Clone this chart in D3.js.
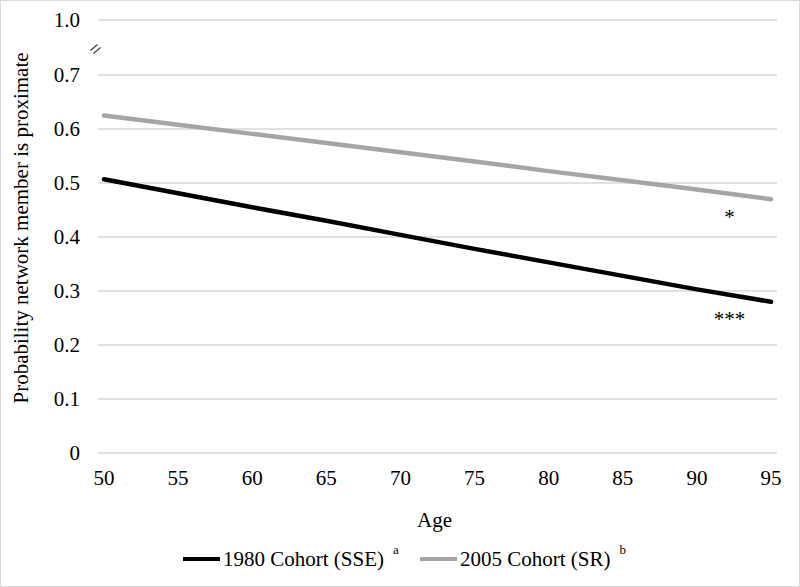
<!DOCTYPE html>
<html>
<head>
<meta charset="utf-8">
<script src="https://cdn.jsdelivr.net/npm/d3@7"></script>
<style>
  body { margin: 0; background: #fff; }
  svg { font-family: "Liberation Serif", "Times New Roman", serif; }
</style>
</head>
<body>
<div id="chart"></div>
<script>
// data
const ages = [50, 55, 60, 65, 70, 75, 80, 85, 90, 95];
const cohort1980 = [0.507, 0.481, 0.455, 0.430, 0.404, 0.378, 0.353, 0.328, 0.303, 0.280];
const cohort2005 = [0.625, 0.608, 0.591, 0.574, 0.557, 0.540, 0.522, 0.505, 0.488, 0.470];
const yTicks = [0, 0.1, 0.2, 0.3, 0.4, 0.5, 0.6, 0.7, 1.0];
const yTickLabels = ["0", "0.1", "0.2", "0.3", "0.4", "0.5", "0.6", "0.7", "1.0"];
const seriesNames = ["1980 Cohort (SSE)", "2005 Cohort (SR)"];
const seriesNotes = ["a", "b"];
const sigMarks = ["***", "*"];

const width = 800, height = 587;
const colors = ["#000000", "#a5a5a5"];
const fs = 21;

const svg = d3.select("#chart").append("svg")
    .attr("width", width)
    .attr("height", height);

// frame round the picture
svg.append("rect")
    .attr("x", 0.5).attr("y", 0.5)
    .attr("width", width - 1).attr("height", height - 1)
    .attr("fill", "none").attr("stroke", "#d9d9d9");

const x = d3.scaleLinear().domain([50, 95]).range([104, 771]);
// broken axis: 0..0.7 linear, then jump to 1.0
const y = d3.scaleLinear().domain([0, 0.7, 1.0]).range([453, 75, 20]);

// gridlines
svg.append("g").selectAll("line")
    .data(yTicks)
    .enter().append("line")
    .attr("x1", 98).attr("x2", 777)
    .attr("y1", d => y(d)).attr("y2", d => y(d))
    .attr("stroke", "#d9d9d9").attr("stroke-width", 1.3);

// y tick labels
svg.append("g").selectAll("text")
    .data(yTicks)
    .enter().append("text")
    .attr("x", 80)
    .attr("y", d => y(d) + 7)
    .attr("text-anchor", "end")
    .attr("font-size", fs)
    .text((d, i) => yTickLabels[i]);

// x tick labels
svg.append("g").selectAll("text")
    .data(ages)
    .enter().append("text")
    .attr("x", d => x(d))
    .attr("y", 485)
    .attr("text-anchor", "middle")
    .attr("font-size", fs)
    .text(d => d);

// axis break mark
const brk = svg.append("g").attr("stroke", "#404040").attr("stroke-width", 1.2);
[-1.5, 1.5].forEach(o => {
    brk.append("line")
        .attr("x1", 92 + o).attr("y1", 52 + o)
        .attr("x2", 99 + o).attr("y2", 46 + o);
});

// lines
const line = d3.line()
    .x((d, i) => x(ages[i]))
    .y(d => y(d));

[cohort1980, cohort2005].forEach((s, k) => {
    svg.append("path")
        .datum(s)
        .attr("d", line)
        .attr("fill", "none")
        .attr("stroke", colors[k])
        .attr("stroke-width", 4.5)
        .attr("stroke-linecap", "round");
});

// significance marks
const ends = [cohort1980[cohort1980.length - 1], cohort2005[cohort2005.length - 1]];
const sigOffset = [15, 16];
sigMarks.forEach((m, k) => {
    svg.append("text")
        .attr("x", x(92.2))
        .attr("y", y(ends[k]) + sigOffset[k] + 9)
        .attr("text-anchor", "middle")
        .attr("font-size", fs)
        .text(m);
});

// axis titles
svg.append("text")
    .attr("x", x(72.5) - 3)
    .attr("y", 527)
    .attr("text-anchor", "middle")
    .attr("font-size", fs)
    .text("Age");

svg.append("text")
    .attr("transform", "translate(28,228) rotate(-90)")
    .attr("text-anchor", "middle")
    .attr("font-size", fs)
    .text("Probability network member is proximate");

// legend
const legX = [183, 420];
seriesNames.forEach((name, k) => {
    const g = svg.append("g").attr("transform", `translate(${legX[k]},559)`);
    g.append("line")
        .attr("x1", 0).attr("x2", 37)
        .attr("stroke", colors[k]).attr("stroke-width", 4);
    const t = g.append("text")
        .attr("x", 40).attr("y", 7)
        .attr("font-size", fs);
    t.append("tspan").text(name);
    t.append("tspan")
        .attr("font-size", 13)
        .attr("dx", 9)
        .attr("dy", -12)
        .text(seriesNotes[k]);
});
</script>
</body>
</html>
